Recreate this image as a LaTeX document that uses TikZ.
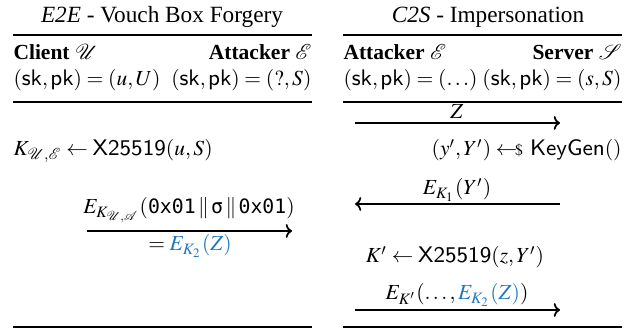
\documentclass[tikz,border=0pt]{standalone}
\usepackage{mathptmx}
\usepackage{fontspec}
\setmainfont{Liberation Serif}
\setmonofont[Scale=0.92]{DejaVu Sans Mono}
\usetikzlibrary{arrows.meta}
\definecolor{kblue}{RGB}{31,119,192}
\tikzset{
  rule/.style={line width=0.9pt},
  msg/.style={line width=0.7pt,-{To[length=2.5pt,width=5.5pt]}},
  txt/.style={inner sep=0pt,font=\fontsize{8.6}{10}\selectfont},
  ttl/.style={inner sep=0pt,font=\fontsize{9.3}{11}\selectfont},
}
\newcommand{\mysk}{\mathsf{sk}}
\newcommand{\mypk}{\mathsf{pk}}
\begin{document}
\begin{tikzpicture}[x=0.4pt,y=-0.4pt]
\useasboundingbox (0,0) rectangle (627,330);
% left column
\node[ttl,anchor=base] (t1) at (162,23) {\textit{E2E} - Vouch Box Forgery};
\coordinate (l1a) at (13,35); \coordinate (l1b) at (312,35);
\draw[rule] (l1a) -- (l1b);
\node[txt,anchor=base west] (cu) at (13,60) {\textbf{Client} $\mathcal{U}$};
\node[txt,anchor=base east] (ae) at (312,60) {\textbf{Attacker} $\mathcal{E}$};
\node[txt,anchor=base west] (ku) at (13,86) {$(\mysk,\mypk)=(u,U)$};
\node[txt,anchor=base east] (ke) at (312,86) {$(\mysk,\mypk)=(?,S)$};
\coordinate (l2a) at (13,102); \coordinate (l2b) at (312,102);
\draw[rule] (l2a) -- (l2b);
\node[txt,anchor=base west] (kue) at (13,156) {$K_{\mathcal{U},\mathcal{E}}\leftarrow\mathsf{X25519}(u,S)$};
\coordinate (m1a) at (87,231); \coordinate (m1b) at (292,231);
\draw[msg] (m1a) -- (m1b);
\node[txt,anchor=base] (m1t) at (189,214) {$E_{K_{\mathcal{U},\mathcal{A}}}(\texttt{0x01}\,\Vert\,\texttt{σ}\,\Vert\,\texttt{0x01})$};
\node[txt,anchor=base] (m1u) at (190,251) {$=\textcolor{kblue}{E_{K_2}(Z)}$};
\coordinate (l3a) at (13,327); \coordinate (l3b) at (312,327);
\draw[rule] (l3a) -- (l3b);
% right column
\node[ttl,anchor=base] (t2) at (488,23) {\textit{C2S} - Impersonation};
\coordinate (r1a) at (343,35); \coordinate (r1b) at (622,35);
\draw[rule] (r1a) -- (r1b);
\node[txt,anchor=base west] (ae2) at (343,60) {\textbf{Attacker} $\mathcal{E}$};
\node[txt,anchor=base east] (ss) at (622,60) {\textbf{Server} $\mathcal{S}$};
\node[txt,anchor=base west] (ke2) at (343,86) {$(\mysk,\mypk)=(\ldots)$};
\node[txt,anchor=base east] (ks) at (622,86) {$(\mysk,\mypk)=(s,S)$};
\coordinate (r2a) at (343,102); \coordinate (r2b) at (622,102);
\draw[rule] (r2a) -- (r2b);
\coordinate (m2a) at (355,123); \coordinate (m2b) at (560,123);
\draw[msg] (m2a) -- (m2b);
\node[txt,anchor=base] (m2t) at (457,119) {$Z$};
\node[txt,anchor=base east] (kg) at (622,156) {$(y',Y')\mathrel{\leftarrow\mkern-6mu{\scriptstyle\$}}\,\mathsf{KeyGen}()$};
\coordinate (m3a) at (560,204); \coordinate (m3b) at (355,204);
\draw[msg] (m3a) -- (m3b);
\node[txt,anchor=base] (m3t) at (457,195) {$E_{K_1}(Y')$};
\node[txt,anchor=base] (kp) at (455,263) {$K'\leftarrow\mathsf{X25519}(z,Y')$};
\coordinate (m4a) at (355,310); \coordinate (m4b) at (560,310);
\draw[msg] (m4a) -- (m4b);
\node[txt,anchor=base] (m4t) at (457,300) {$E_{K'}(\ldots,\textcolor{kblue}{E_{K_2}(Z)})$};
\coordinate (r3a) at (343,327); \coordinate (r3b) at (622,327);
\draw[rule] (r3a) -- (r3b);
\end{tikzpicture}
\end{document}
